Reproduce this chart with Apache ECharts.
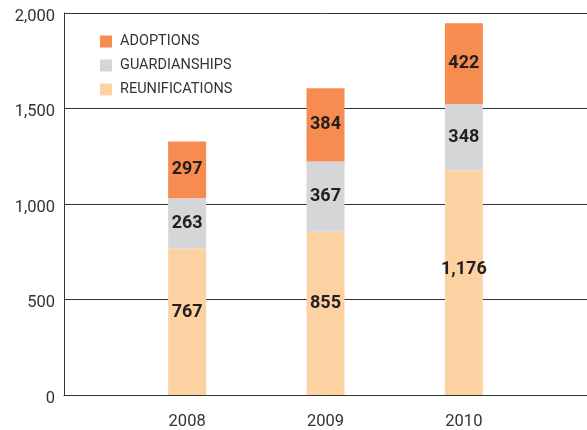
<!DOCTYPE html>
<html>
<head>
<meta charset="utf-8">
<script src="https://cdn.jsdelivr.net/npm/echarts@6/dist/echarts.min.js"></script>
<style>
  html, body { margin: 0; padding: 0; background: #fff; }
  #chart { width: 587px; height: 430px; }
</style>
</head>
<body>
<div id="chart"></div>
<script>
// years on the x axis
var years = [2008, 2009, 2010]
// stacked values, bottom to top
var reunifications = [767, 855, 1176]
var guardianships = [263, 367, 348]
var adoptions = [297, 384, 422]
var yTicks = [0, 500, 1000, 1500, 2000]

var colors = { adoptions: '#f78c50', guardianships: '#d5d6d8', reunifications: '#fcd2a2' }

function fmt (v) {
  return Number(v).toLocaleString('en-US')
}

// value first so the stack runs on the y dimension
function pairs (vals) {
  return years.map(function (y, i) { return [vals[i], y] })
}

function barSeries (name, vals, color, labelPos) {
  return {
    name: name,
    type: 'bar',
    stack: 'total',
    barWidth: 38,
    encode: { x: 1, y: 0 },
    data: pairs(vals),
    itemStyle: { color: color },
    label: {
      show: true,
      position: labelPos || 'inside',
      align: 'center',
      verticalAlign: 'middle',
      color: '#231f20',
      fontFamily: 'Roboto',
      fontWeight: 'bold',
      fontSize: 18,
      formatter: function (p) { return fmt(p.value[0]) }
    }
  }
}

var myChart = echarts.init(document.getElementById('chart'))
var option = {
  animation: false,
  grid: { left: 64, right: 0, top: 13, bottom: 34, containLabel: false },
  legend: {
    orient: 'vertical',
    left: 95,
    top: 29,
    itemWidth: 12,
    itemHeight: 12,
    itemGap: 9,
    icon: 'rect',
    data: ['ADOPTIONS', 'GUARDIANSHIPS', 'REUNIFICATIONS'],
    textStyle: { color: '#333', fontSize: 14.5, fontFamily: 'Roboto', padding: [0, 0, 0, 3] }
  },
  xAxis: {
    type: 'value',
    min: 2007.11,
    max: 2010.89,
    axisLine: { show: true, lineStyle: { color: '#333', width: 1 } },
    axisTick: { show: false },
    splitLine: { show: false },
    axisLabel: {
      customValues: years,
      margin: 18,
      color: '#333',
      fontSize: 16.5,
      fontFamily: 'Roboto',
      formatter: function (v) { return String(v) }
    }
  },
  yAxis: {
    type: 'value',
    min: yTicks[0],
    max: yTicks[yTicks.length - 1],
    interval: 500,
    axisLine: { show: true, lineStyle: { color: '#333', width: 1 } },
    axisTick: { show: false },
    splitLine: { show: true, lineStyle: { color: '#333', width: 1 } },
    axisLabel: {
      margin: 9,
      color: '#333',
      fontSize: 16.5,
      fontFamily: 'Roboto',
      formatter: function (v) { return '{t|' + fmt(v) + '}' },
      rich: {
        t: { fontSize: 16.5, fontFamily: 'Roboto', color: '#333', padding: [7, 0, 0, 0] }
      }
    }
  },
  series: [
    barSeries('REUNIFICATIONS', reunifications, colors.reunifications, ['50%', '44%']),
    barSeries('GUARDIANSHIPS', guardianships, colors.guardianships),
    barSeries('ADOPTIONS', adoptions, colors.adoptions)
  ]
}
myChart.setOption(option)
</script>
</body>
</html>
